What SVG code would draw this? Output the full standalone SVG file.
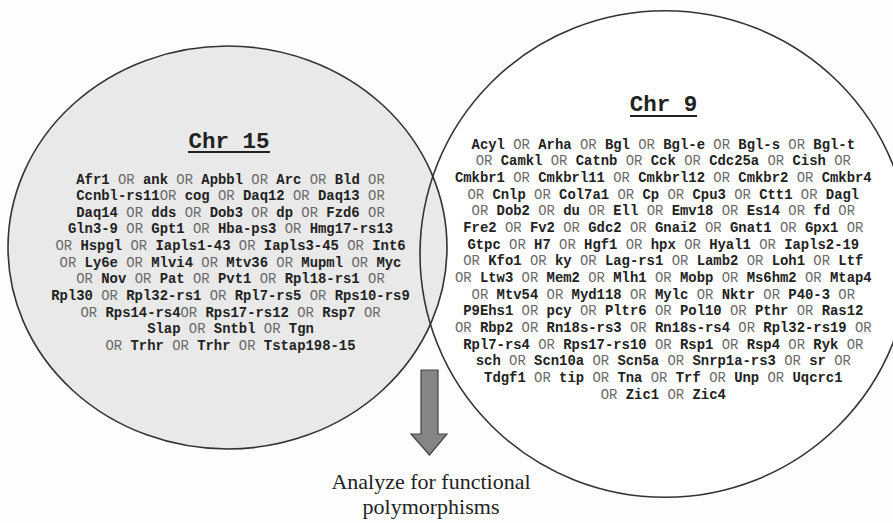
<svg xmlns="http://www.w3.org/2000/svg" width="893" height="523" viewBox="0 0 893 523">
<style>
.g{font-family:"Liberation Mono","Courier New",monospace;font-size:13.9px;font-weight:bold;fill:#222;text-anchor:middle}
.o{font-weight:normal;fill:#6a6a6a}
.t{font-family:"Liberation Mono","Courier New",monospace;font-size:22.5px;font-weight:bold;fill:#222;text-anchor:middle}
.ul{stroke:#222;stroke-width:2}
.lab{font-family:"Liberation Serif","Times New Roman",serif;font-size:22px;fill:#222;text-anchor:middle}
</style>
<rect width="893" height="523" fill="#fdfdfd"/>
<g id="chr9">
<ellipse cx="665" cy="254" rx="245" ry="243.3" fill="#ffffff" stroke="none"/>
</g>
<g id="chr15">
<ellipse cx="227.5" cy="247.5" rx="219.5" ry="201.5" fill="#e9e9e9" stroke="#333" stroke-width="1.6"/>
<text class="t" x="229" y="147.5">Chr 15</text>
<line class="ul" x1="188" y1="152" x2="270" y2="152"/>
<text class="g" x="230.5" y="183.5">Afr1 <tspan class="o">OR</tspan> ank <tspan class="o">OR</tspan> Apbbl <tspan class="o">OR</tspan> Arc <tspan class="o">OR</tspan> Bld <tspan class="o">OR</tspan></text>
<text class="g" x="230.5" y="200.1">Ccnbl-rs11<tspan class="o">OR</tspan> cog <tspan class="o">OR</tspan> Daq12 <tspan class="o">OR</tspan> Daq13 <tspan class="o">OR</tspan></text>
<text class="g" x="230.5" y="216.8">Daq14 <tspan class="o">OR</tspan> dds <tspan class="o">OR</tspan> Dob3 <tspan class="o">OR</tspan> dp <tspan class="o">OR</tspan> Fzd6 <tspan class="o">OR</tspan></text>
<text class="g" x="230.5" y="233.4">Gln3-9 <tspan class="o">OR</tspan> Gpt1 <tspan class="o">OR</tspan> Hba-ps3 <tspan class="o">OR</tspan> Hmg17-rs13</text>
<text class="g" x="230.5" y="250.1"><tspan class="o">OR</tspan> Hspgl <tspan class="o">OR</tspan> Iapls1-43 <tspan class="o">OR</tspan> Iapls3-45 <tspan class="o">OR</tspan> Int6</text>
<text class="g" x="230.5" y="266.7"><tspan class="o">OR</tspan> Ly6e <tspan class="o">OR</tspan> Mlvi4 <tspan class="o">OR</tspan> Mtv36 <tspan class="o">OR</tspan> Mupml <tspan class="o">OR</tspan> Myc</text>
<text class="g" x="230.5" y="283.4"><tspan class="o">OR</tspan> Nov <tspan class="o">OR</tspan> Pat <tspan class="o">OR</tspan> Pvt1 <tspan class="o">OR</tspan> Rpl18-rs1 <tspan class="o">OR</tspan></text>
<text class="g" x="230.5" y="300">Rpl30 <tspan class="o">OR</tspan> Rpl32-rs1 <tspan class="o">OR</tspan> Rpl7-rs5 <tspan class="o">OR</tspan> Rps10-rs9</text>
<text class="g" x="230.5" y="316.7"><tspan class="o">OR</tspan> Rps14-rs4<tspan class="o">OR</tspan> Rps17-rs12 <tspan class="o">OR</tspan> Rsp7 <tspan class="o">OR</tspan></text>
<text class="g" x="230.5" y="333.3">Slap <tspan class="o">OR</tspan> Sntbl <tspan class="o">OR</tspan> Tgn</text>
<text class="g" x="230.5" y="350"><tspan class="o">OR</tspan> Trhr <tspan class="o">OR</tspan> Trhr <tspan class="o">OR</tspan> Tstap198-15</text>
</g>
<g id="chr9-content">
<ellipse cx="665" cy="254" rx="245" ry="243.3" fill="none" stroke="#333" stroke-width="1.6"/>
<text class="t" x="663.5" y="110.7">Chr 9</text>
<line class="ul" x1="630" y1="116" x2="697" y2="116"/>
<text class="g" x="663.3" y="148.5">Acyl <tspan class="o">OR</tspan> Arha <tspan class="o">OR</tspan> Bgl <tspan class="o">OR</tspan> Bgl-e <tspan class="o">OR</tspan> Bgl-s <tspan class="o">OR</tspan> Bgl-t</text>
<text class="g" x="663.3" y="165.2"><tspan class="o">OR</tspan> Camkl <tspan class="o">OR</tspan> Catnb <tspan class="o">OR</tspan> Cck <tspan class="o">OR</tspan> Cdc25a <tspan class="o">OR</tspan> Cish <tspan class="o">OR</tspan></text>
<text class="g" x="663.3" y="181.8">Cmkbr1 <tspan class="o">OR</tspan> Cmkbrl11 <tspan class="o">OR</tspan> Cmkbrl12 <tspan class="o">OR</tspan> Cmkbr2 <tspan class="o">OR</tspan> Cmkbr4</text>
<text class="g" x="663.3" y="198.5"><tspan class="o">OR</tspan> Cnlp <tspan class="o">OR</tspan> Col7a1 <tspan class="o">OR</tspan> Cp <tspan class="o">OR</tspan> Cpu3 <tspan class="o">OR</tspan> Ctt1 <tspan class="o">OR</tspan> Dagl</text>
<text class="g" x="663.3" y="215.2"><tspan class="o">OR</tspan> Dob2 <tspan class="o">OR</tspan> du <tspan class="o">OR</tspan> Ell <tspan class="o">OR</tspan> Emv18 <tspan class="o">OR</tspan> Es14 <tspan class="o">OR</tspan> fd <tspan class="o">OR</tspan></text>
<text class="g" x="663.3" y="231.8">Fre2 <tspan class="o">OR</tspan> Fv2 <tspan class="o">OR</tspan> Gdc2 <tspan class="o">OR</tspan> Gnai2 <tspan class="o">OR</tspan> Gnat1 <tspan class="o">OR</tspan> Gpx1 <tspan class="o">OR</tspan></text>
<text class="g" x="663.3" y="248.5">Gtpc <tspan class="o">OR</tspan> H7 <tspan class="o">OR</tspan> Hgf1 <tspan class="o">OR</tspan> hpx <tspan class="o">OR</tspan> Hyal1 <tspan class="o">OR</tspan> Iapls2-19</text>
<text class="g" x="663.3" y="265.2"><tspan class="o">OR</tspan> Kfo1 <tspan class="o">OR</tspan> ky <tspan class="o">OR</tspan> Lag-rs1 <tspan class="o">OR</tspan> Lamb2 <tspan class="o">OR</tspan> Loh1 <tspan class="o">OR</tspan> Ltf</text>
<text class="g" x="663.3" y="281.8"><tspan class="o">OR</tspan> Ltw3 <tspan class="o">OR</tspan> Mem2 <tspan class="o">OR</tspan> Mlh1 <tspan class="o">OR</tspan> Mobp <tspan class="o">OR</tspan> Ms6hm2 <tspan class="o">OR</tspan> Mtap4</text>
<text class="g" x="663.3" y="298.5"><tspan class="o">OR</tspan> Mtv54 <tspan class="o">OR</tspan> Myd118 <tspan class="o">OR</tspan> Mylc <tspan class="o">OR</tspan> Nktr <tspan class="o">OR</tspan> P40-3 <tspan class="o">OR</tspan></text>
<text class="g" x="663.3" y="315.2">P9Ehs1 <tspan class="o">OR</tspan> pcy <tspan class="o">OR</tspan> Pltr6 <tspan class="o">OR</tspan> Pol10 <tspan class="o">OR</tspan> Pthr <tspan class="o">OR</tspan> Ras12</text>
<text class="g" x="663.3" y="331.8"><tspan class="o">OR</tspan> Rbp2 <tspan class="o">OR</tspan> Rn18s-rs3 <tspan class="o">OR</tspan> Rn18s-rs4 <tspan class="o">OR</tspan> Rpl32-rs19 <tspan class="o">OR</tspan></text>
<text class="g" x="663.3" y="348.5">Rpl7-rs4 <tspan class="o">OR</tspan> Rps17-rs10 <tspan class="o">OR</tspan> Rsp1 <tspan class="o">OR</tspan> Rsp4 <tspan class="o">OR</tspan> Ryk <tspan class="o">OR</tspan></text>
<text class="g" x="663.3" y="365.2">sch <tspan class="o">OR</tspan> Scn10a <tspan class="o">OR</tspan> Scn5a <tspan class="o">OR</tspan> Snrp1a-rs3 <tspan class="o">OR</tspan> sr <tspan class="o">OR</tspan></text>
<text class="g" x="663.3" y="381.8">Tdgf1 <tspan class="o">OR</tspan> tip <tspan class="o">OR</tspan> Tna <tspan class="o">OR</tspan> Trf <tspan class="o">OR</tspan> Unp <tspan class="o">OR</tspan> Uqcrc1</text>
<text class="g" x="663.3" y="398.5"><tspan class="o">OR</tspan> Zic1 <tspan class="o">OR</tspan> Zic4</text>
</g>
<g id="connectors">
<polygon points="421,370 438,370 438,434 447,434 429.5,455 411,434 421,434" fill="#858585" stroke="#444" stroke-width="1.2"/>
</g>
<g id="label">
<text class="lab" x="431" y="489">Analyze for functional</text>
<text class="lab" x="431" y="514">polymorphisms</text>
</g>
</svg>
